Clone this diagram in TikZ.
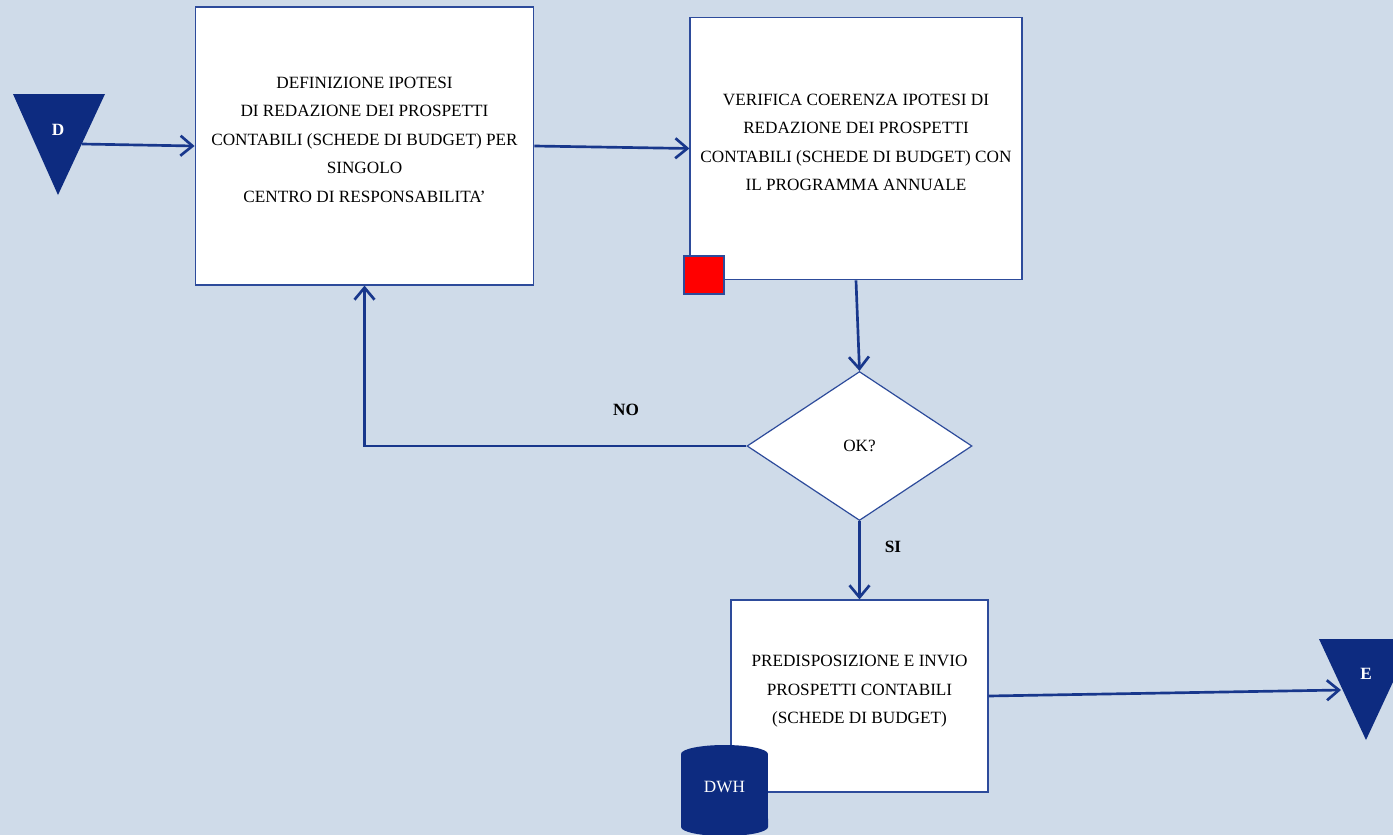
\documentclass[tikz,border=0pt]{standalone}
\usepackage{fontspec}
\setmainfont{Liberation Serif}
\usetikzlibrary{shapes.geometric,arrows.meta}
\definecolor{bgblue}{RGB}{207,219,233}
\definecolor{navy}{RGB}{13,43,128}
\definecolor{flowline}{RGB}{24,55,140}
\definecolor{boxline}{RGB}{45,75,155}

\begin{document}
\begin{tikzpicture}[x=0.75pt,y=-0.75pt]
    \tikzset{
      stepbox/.style={draw=boxline,line width=0.9pt,fill=white,align=center,inner sep=0pt,font=\fontsize{12.9}{21.4}\selectfont},
      flow/.style={draw=flowline,line width=2pt,-{Straight Barb[length=9pt,width=15pt]}},
      lbl/.style={font=\bfseries\fontsize{12.9}{14}\selectfont}
    };
    \fill[bgblue] (0,0) rectangle (1393,835);
    \useasboundingbox (0,0) rectangle (1393,835);
    % process boxes
    \node[stepbox,minimum width=254pt,minimum height=208.5pt] (def) at (364.5,146) {DEFINIZIONE IPOTESI\\DI REDAZIONE DEI PROSPETTI\\CONTABILI (SCHEDE DI BUDGET) PER\\SINGOLO\\CENTRO DI RESPONSABILITA’\\[-12pt]};
    \node[stepbox,minimum width=249pt,minimum height=197pt] (ver) at (856,148.5) {VERIFICA COERENZA IPOTESI DI\\REDAZIONE DEI PROSPETTI\\CONTABILI (SCHEDE DI BUDGET) CON\\IL PROGRAMMA ANNUALE\\[-12pt]};
    \node[draw=boxline,fill=red,line width=0.9pt,minimum width=30pt,minimum height=28.5pt,inner sep=0pt] (alert) at (704,275) {};
    \node[stepbox,shape=diamond,minimum width=168.75pt,minimum height=111.75pt] (ok) at (859.5,446) {OK?};
    \node[stepbox,minimum width=192.75pt,minimum height=144pt] (inv) at (859.5,696) {PREDISPOSIZIONE E INVIO\\PROSPETTI CONTABILI\\(SCHEDE DI BUDGET)\\[-12pt]};
    % connectors D and E
    \fill[navy] (13,94) -- (105,94) -- (58,195) -- cycle;
    \node[lbl,text=white] (D) at (58,130) {D};
    \coordinate (dout) at (82,144);
    \fill[navy] (1319,639) -- (1413,639) -- (1366,740) -- cycle;
    \node[lbl,text=white] (E) at (1366,674) {E};
    \coordinate (ein) at (1341,690);
    % data warehouse
    \fill[navy] (681,754) arc[start angle=180,end angle=0,x radius=32.6pt,y radius=6.75pt] -- (768,827) arc[start angle=0,end angle=-180,x radius=32.6pt,y radius=6.75pt] -- cycle;
    \node[text=white,font=\fontsize{12.9}{14}\selectfont] (dwh) at (724.5,787) {DWH};
    % flow
    \draw[flow] (dout) -- (def.west);
    \draw[flow] (def.east) -- (ver.west);
    \draw[flow] (ver.south) -- (ok.north);
    \draw[flow] (ok.south) -- (inv.north);
    \draw[flow] (ok.west) -| (def.south);
    \draw[flow] (inv.east) -- (ein);
    \node[lbl] (no) at (626,410) {NO};
    \node[lbl] (si) at (893,547) {SI};
\end{tikzpicture}
\end{document}
